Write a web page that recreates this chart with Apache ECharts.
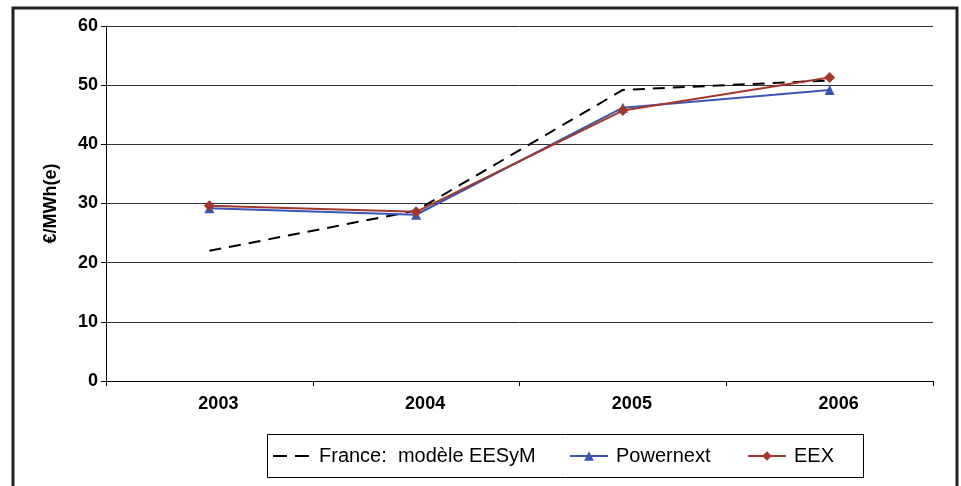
<!DOCTYPE html>
<html>
<head>
<meta charset="utf-8">
<script src="https://cdn.jsdelivr.net/npm/echarts@6/dist/echarts.min.js"></script>
<style>
  html, body { margin: 0; padding: 0; background: #fff; }
  #chart { width: 961px; height: 486px; }
</style>
</head>
<body>
<div id="chart"></div>
<script>
// années
var years = ["2003", "2004", "2005", "2006"];
// prix en €/MWh(e)
var france = [22.0, 28.8, 49.2, 50.8];
var powernext = [29.2, 28.1, 46.2, 49.2];
var eex = [29.6, 28.6, 45.7, 51.3];
var names = ["France:  modèle EESyM", "Powernext", "EEX"];

var chart = echarts.init(document.getElementById("chart"));
var font = "Liberation Sans, Arial, sans-serif";

function legendAt(item, left) {
  return {
    data: [item],
    left: left,
    top: 446,
    itemWidth: 38,
    itemHeight: 12,
    itemGap: 0,
    padding: 0,
    selectedMode: false,
    textStyle: { fontFamily: font, fontSize: 20, color: "#000", padding: [0, 0, 0, 3] }
  };
}

chart.setOption({
  animation: false,
  backgroundColor: "#fff",
  graphic: [
    {
      type: "rect",
      shape: { x: 13, y: 8, width: 944, height: 490 },
      style: { fill: null, stroke: "#222", lineWidth: 3 }
    },
    {
      type: "rect",
      shape: { x: 267.5, y: 434.5, width: 596, height: 43 },
      style: { fill: null, stroke: "#000", lineWidth: 1 }
    }
  ],
  grid: { left: 106, right: 28, top: 26, bottom: 105 },
  legend: [
    // icône en tirets dessinée à la main
    legendAt({ name: names[0], icon: "path://M0,0M38,12M0,5L14,5L14,7L0,7ZM22,5L36,5L36,7L22,7Z" }, 273),
    legendAt(names[1], 569),
    legendAt(names[2], 747)
  ],
  xAxis: {
    type: "category",
    data: years,
    boundaryGap: true,
    axisLine: { lineStyle: { color: "#000", width: 1 } },
    axisTick: { show: true, length: 5, lineStyle: { color: "#000" } },
    axisLabel: { fontFamily: font, fontSize: 18, fontWeight: "bold", color: "#000", margin: 14, padding: [0, 0, 0, 18] }
  },
  yAxis: {
    type: "value",
    min: 0,
    max: 60,
    interval: 10,
    name: "€/MWh(e)",
    nameLocation: "middle",
    nameGap: 46,
    nameTextStyle: { fontFamily: font, fontSize: 18, fontWeight: "bold", color: "#000" },
    axisLine: { show: true, lineStyle: { color: "#000", width: 1 } },
    axisTick: { show: true, length: 5, lineStyle: { color: "#000" } },
    axisLabel: { fontFamily: font, fontSize: 18, fontWeight: "bold", color: "#000", margin: 8 },
    splitLine: { show: true, lineStyle: { color: "#333", width: 1 } }
  },
  series: [
    {
      name: names[0],
      type: "line",
      data: france,
      symbol: "none",
      color: "#000",
      lineStyle: { color: "#000", width: 2, type: [12, 8] }
    },
    {
      name: names[1],
      type: "line",
      data: powernext,
      symbol: "triangle",
      symbolSize: 10,
      color: "#3a55b4",
      lineStyle: { color: "#3a55b4", width: 2 },
      itemStyle: { color: "#3a55b4" }
    },
    {
      name: names[2],
      type: "line",
      data: eex,
      symbol: "diamond",
      symbolSize: 11,
      color: "#a3382a",
      lineStyle: { color: "#a3382a", width: 2 },
      itemStyle: { color: "#a3382a" }
    }
  ]
});
</script>
</body>
</html>
